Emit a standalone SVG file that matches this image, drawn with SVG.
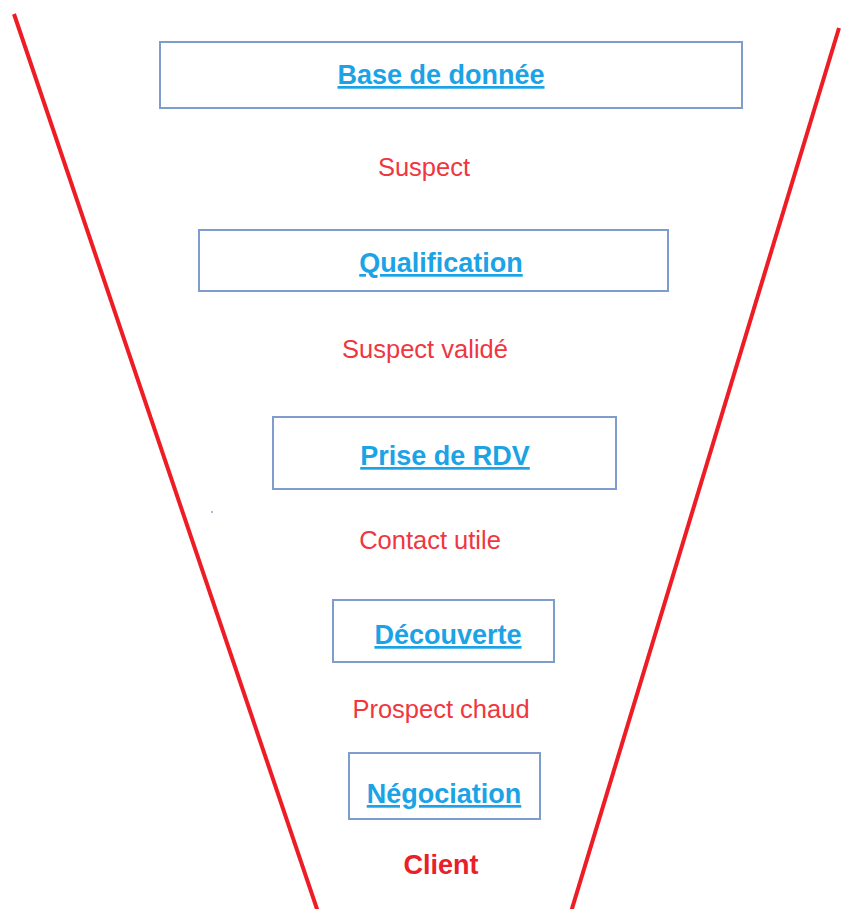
<svg xmlns="http://www.w3.org/2000/svg" width="841" height="909" viewBox="0 0 841 909">
  <style>
    .box { fill: #ffffff; stroke: #7e9dcc; stroke-width: 2; }
    .step { font-family: "Liberation Sans", Arial, sans-serif; font-weight: bold; font-size: 27px; fill: #1ba3e6; text-decoration: underline; text-anchor: middle; }
    .stage { font-family: "Liberation Sans", Arial, sans-serif; font-size: 25.5px; fill: #f0363f; text-anchor: middle; }
    .final { font-weight: bold; font-size: 27px; fill: #e8202a; }
    .funnel { stroke: #ee1c25; stroke-width: 4; fill: none; }
  </style>
  <rect width="841" height="909" fill="#ffffff"/>

  <!-- funnel walls -->
  <g id="connectors">
    <line class="funnel" x1="14" y1="14" x2="318" y2="912"/>
    <line class="funnel" x1="839" y1="28" x2="571" y2="912"/>
  </g>

  <g id="base-de-donnee">
    <rect class="box" x="160" y="42" width="582" height="66"/>
    <text class="step" x="441" y="84">Base de donnée</text>
  </g>
  <g id="suspect">
    <text class="stage" x="424" y="176">Suspect</text>
  </g>
  <g id="qualification">
    <rect class="box" x="199" y="230" width="469" height="61"/>
    <text class="step" x="441" y="272">Qualification</text>
  </g>
  <g id="suspect-valide">
    <text class="stage" x="425" y="358">Suspect validé</text>
  </g>
  <g id="prise-de-rdv">
    <rect class="box" x="273" y="417" width="343" height="72"/>
    <text class="step" x="445" y="465">Prise de RDV</text>
  </g>
  <g id="contact-utile">
    <text class="stage" x="430" y="549">Contact utile</text>
  </g>
  <g id="decouverte">
    <rect class="box" x="333" y="600" width="221" height="62"/>
    <text class="step" x="448" y="644">Découverte</text>
  </g>
  <g id="prospect-chaud">
    <text class="stage" x="441" y="718">Prospect chaud</text>
  </g>
  <g id="negociation">
    <rect class="box" x="349" y="753" width="191" height="66"/>
    <text class="step" x="444" y="803">Négociation</text>
  </g>
  <g id="client">
    <text class="stage final" x="441" y="874">Client</text>
  </g>

  <circle cx="212" cy="512" r="1" fill="#8fa8d0"/>
</svg>
